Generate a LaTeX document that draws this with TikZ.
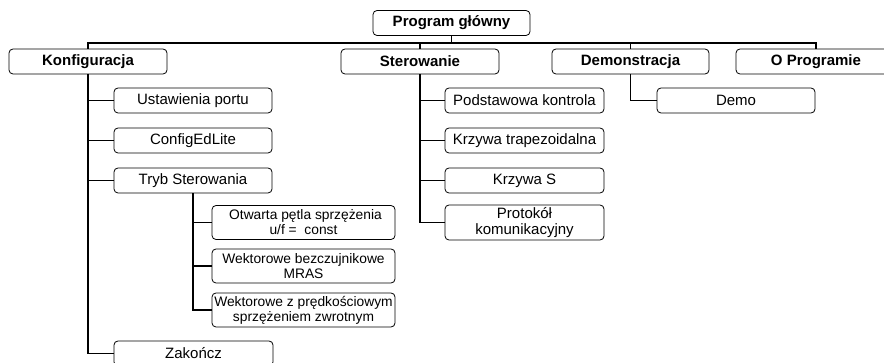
\documentclass[tikz,border=0pt]{standalone}
\usepackage{fontspec}
\setmainfont{Liberation Sans}
\begin{document}
\begin{tikzpicture}[x=1pt,y=-1pt,
  box/.style={draw=black,line width=0.8pt,fill=white,rounded corners=4pt,
    inner sep=0pt,align=center,minimum height=25pt,
    font=\fontsize{15}{16}\selectfont},
  top/.style={box,font=\fontsize{15}{16}\selectfont\bfseries},
  small/.style={box,minimum height=34pt,font=\fontsize{13.8}{15}\selectfont},
  conn/.style={line width=1.6pt,line cap=rect}]
\useasboundingbox (0,0) rectangle (884,363);
\clip (0,0) rectangle (884,363);
\coordinate (busL) at (88,43);
% connectors first
\path (451.5,23) coordinate (progc);
\begin{scope}[every node/.style={}]
\end{scope}
% nodes
\node[top,minimum width=157pt] (prog) at (451.5,23) {Program główny};
\node[top,minimum width=158pt] (konf) at (88,61.5) {Konfiguracja};
\node[top,minimum width=158pt] (ster) at (420,61.5) {Sterowanie};
\node[top,minimum width=157pt] (demt) at (630.5,61.5) {Demonstracja};
\node[top,minimum width=160pt] (oprog) at (816,61.5) {O Programie};
\node[box,minimum width=158pt] (ustaw) at (193,100.5) {Ustawienia portu};
\node[box,minimum width=158pt] (cfg) at (193,140.5) {ConfigEdLite};
\node[box,minimum width=158pt] (tryb) at (193,180.5) {Tryb Sterowania};
\node[box,minimum width=159pt] (zak) at (193.5,353.5) {Zakończ};
\node[small,minimum width=183pt] (otw) at (303.5,222.5) {\hspace*{4pt}Otwarta pętla sprzężenia\\u/f =\ \ const};
\node[small,minimum width=183pt] (mras) at (303.5,266) {Wektorowe bezczujnikowe\\MRAS};
\node[small,minimum width=183pt] (wz) at (303.5,310) {Wektorowe z prędkościowym\\sprzężeniem zwrotnym};
\node[box,minimum width=159pt] (podst) at (524.5,100.5) {Podstawowa kontrola};
\node[box,minimum width=159pt] (trap) at (524.5,140.5) {Krzywa trapezoidalna};
\node[box,minimum width=159pt] (ks) at (524.5,180.5) {Krzywa S};
\node[box,minimum width=159pt,minimum height=35pt] (prot) at (524.5,222.5) {Protokół\\komunikacyjny};
\node[box,minimum width=158pt] (demo) at (736,100.5) {Demo};
% connectors
\draw[conn] (prog.south) -- (prog.south |- busL);
\draw[conn] (busL) -- (oprog.north |- busL) -- (oprog.north);
\draw[conn] (busL) -- (konf.north);
\draw[conn] (ster.north |- busL) -- (ster.north);
\draw[conn] (demt.north |- busL) -- (demt.north);
\draw[conn] (konf.south) -- (konf.south |- zak.west) -- (zak.west);
\draw[conn] (konf.south |- ustaw.west) -- (ustaw.west);
\draw[conn] (konf.south |- cfg.west) -- (cfg.west);
\draw[conn] (konf.south |- tryb.west) -- (tryb.west);
\draw[conn] (tryb.south) -- (tryb.south |- wz.west) -- (wz.west);
\draw[conn] (tryb.south |- otw.west) -- (otw.west);
\draw[conn] (tryb.south |- mras.west) -- (mras.west);
\draw[conn] (ster.south) -- (ster.south |- prot.west) -- (prot.west);
\draw[conn] (ster.south |- podst.west) -- (podst.west);
\draw[conn] (ster.south |- trap.west) -- (trap.west);
\draw[conn] (ster.south |- ks.west) -- (ks.west);
\draw[conn] (demt.south) -- (demt.south |- demo.west) -- (demo.west);
\end{tikzpicture}
\end{document}
